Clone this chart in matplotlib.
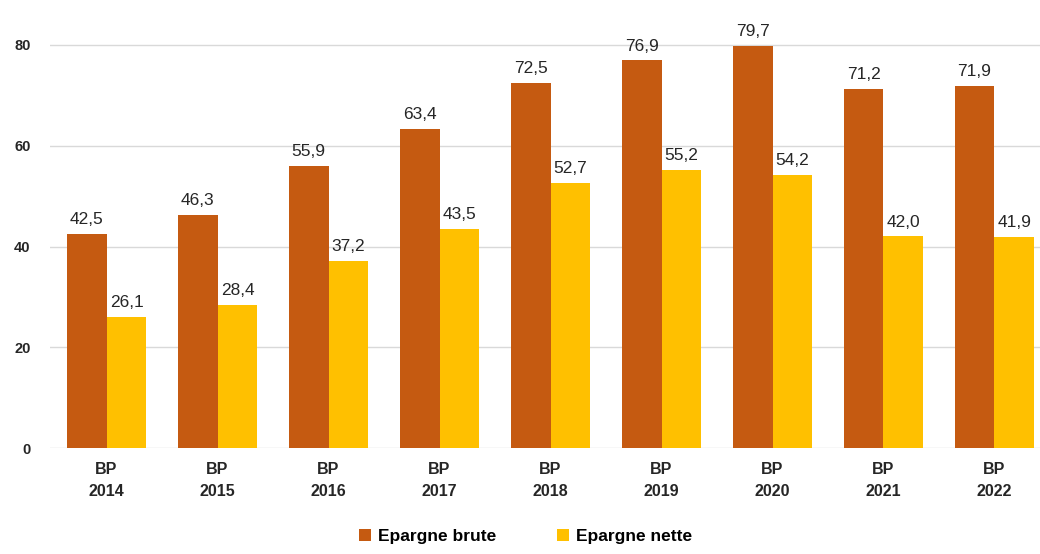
import matplotlib
matplotlib.use('Agg')
import matplotlib.pyplot as plt
import numpy as np

# Données (Md€)
annees = ["BP\n2014", "BP\n2015", "BP\n2016", "BP\n2017", "BP\n2018",
          "BP\n2019", "BP\n2020", "BP\n2021", "BP\n2022"]
epargne_brute = [42.5, 46.3, 55.9, 63.4, 72.5, 76.9, 79.7, 71.2, 71.9]
epargne_nette = [26.1, 28.4, 37.2, 43.5, 52.7, 55.2, 54.2, 42.0, 41.9]

COUL_BRUTE = '#C55A11'
COUL_NETTE = '#FFC000'

plt.rcParams['font.family'] = ['Liberation Sans', 'DejaVu Sans']

fig = plt.figure(figsize=(10.4, 5.54), dpi=100)
ax = fig.add_axes([0.048, 0.191, 0.952, 0.809])

x = np.arange(len(annees))
larg = 0.36
b1 = ax.bar(x - larg / 2, epargne_brute, larg, color=COUL_BRUTE, label='Epargne brute', zorder=3)
b2 = ax.bar(x + larg / 2, epargne_nette, larg, color=COUL_NETTE, label='Epargne nette', zorder=3)

# étiquettes de valeurs au format français
for barres in (b1, b2):
    for r in barres:
        v = r.get_height()
        ax.annotate(f"{v:.1f}".replace('.', ','),
                    (r.get_x() + r.get_width() / 2, v),
                    xytext=(0, 5), textcoords='offset points',
                    ha='center', va='bottom', fontsize=12.5, color='#262626')

ax.set_xlim(-0.51, 8.41)
ax.set_ylim(0, 88.9)
ax.set_yticks([0, 20, 40, 60, 80])
ax.set_xticks(x)
ax.set_xticklabels(annees, fontweight='bold', fontsize=11.5, color='#262626',
                   linespacing=1.6)
ax.tick_params(axis='y', labelsize=10.5, labelcolor='#262626', length=0, pad=14)
ax.tick_params(axis='x', length=0, pad=10)
for lab in ax.get_yticklabels():
    lab.set_fontweight('bold')

ax.grid(axis='y', color='#D9D9D9', linewidth=1, zorder=0)
for s in ax.spines.values():
    s.set_visible(False)

fig.legend(handles=[b1, b2], loc='lower center', bbox_to_anchor=(0.505, -0.01),
           ncol=2, frameon=False, prop={'weight': 'bold', 'size': 12.5},
           handlelength=0.7, handleheight=0.7, handletextpad=0.4, columnspacing=3.5)

fig.savefig('out.png', dpi=100)
